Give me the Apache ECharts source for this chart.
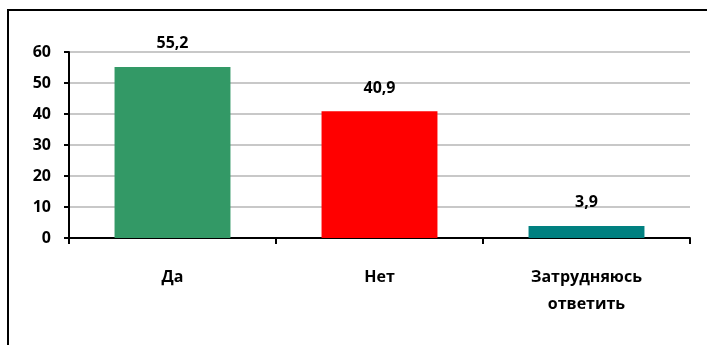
<!DOCTYPE html>
<html>
<head>
<meta charset="utf-8">
<script src="https://cdn.jsdelivr.net/npm/echarts@6/dist/echarts.min.js"></script>
<style>
  html, body { margin: 0; padding: 0; background: #fff; }
  #chart { width: 707px; height: 345px; }
</style>
</head>
<body>
<div id="chart"></div>
<script>
// Survey answers and their shares, %
const categories = ['Да', 'Нет', 'Затрудняюсь\nответить'];
const values = [55.2, 40.9, 3.9];
const barColors = ['#339966', '#FF0000', '#008080'];
const yTicks = [0, 10, 20, 30, 40, 50, 60];

const font = '"Open Sans", "Noto Sans", sans-serif';

const chart = echarts.init(document.getElementById('chart'), null, { renderer: 'canvas' });
chart.setOption({
  animation: false,
  backgroundColor: '#fff',
  graphic: [{
    type: 'rect',
    shape: { x: 8, y: 10, width: 760, height: 400 },
    style: { fill: 'none', stroke: '#000', lineWidth: 2 },
    silent: true
  }],
  grid: { left: 69, right: 17, top: 52, bottom: 107, containLabel: false },
  xAxis: {
    type: 'category',
    data: categories,
    axisLine: { lineStyle: { color: '#000', width: 2 } },
    axisTick: { show: true, alignWithLabel: false, length: 6, lineStyle: { color: '#000', width: 2 } },
    axisLabel: {
      margin: 26, color: '#000', fontFamily: font, fontWeight: 'bold', fontSize: 16,
      lineHeight: 27, interval: 0
    }
  },
  yAxis: {
    type: 'value',
    min: yTicks[0],
    max: yTicks[yTicks.length - 1],
    interval: 10,
    axisLine: { show: true, lineStyle: { color: '#000', width: 2 } },
    axisTick: { show: true, inside: false, length: 5, lineStyle: { color: '#000', width: 2 } },
    axisLabel: {
      margin: 18, color: '#000', fontFamily: font, fontWeight: 'bold', fontSize: 16,
      formatter: v => yTicks.includes(v) ? String(v) : ''
    },
    splitLine: { lineStyle: { color: '#C8C8C8', width: 2 } }
  },
  series: [{
    type: 'bar',
    data: values.map((v, i) => ({ value: v, itemStyle: { color: barColors[i] } })),
    barCategoryGap: '44%',
    label: {
      show: true,
      position: 'top',
      distance: 15,
      color: '#000',
      fontFamily: font,
      fontWeight: 'bold',
      fontSize: 16,
      formatter: p => String(p.value).replace('.', ',')
    }
  }]
});
</script>
</body>
</html>
